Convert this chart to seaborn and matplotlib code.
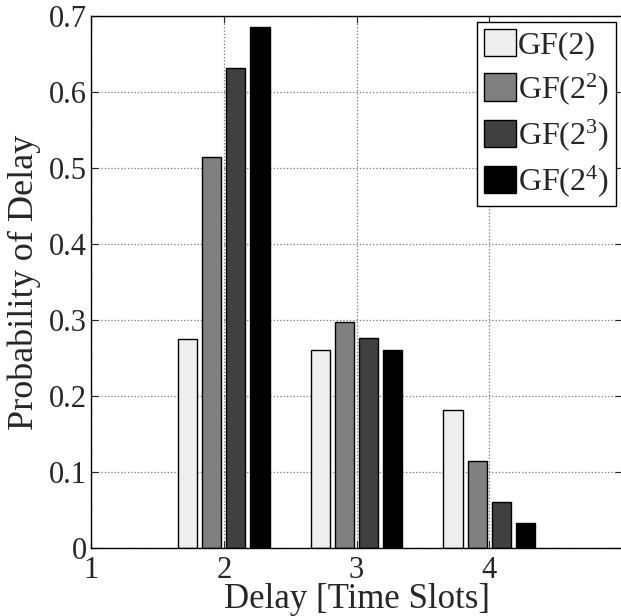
import numpy as np
import pandas as pd
import seaborn as sns
from matplotlib import pyplot as plt

# values
delays = [2, 3, 4]
field_labels = ["GF(2)", "GF(2$^{2}$)", "GF(2$^{3}$)", "GF(2$^{4}$)"]
gf2 = [0.275, 0.260, 0.182]
gf4 = [0.515, 0.298, 0.114]
gf8 = [0.631, 0.276, 0.060]
gf16 = [0.685, 0.261, 0.0325]
colors = ["#eeeeee", "#808080", "#404040", "#000000"]

sns.set_style("ticks")
plt.rcParams["font.family"] = ["Liberation Serif", "DejaVu Serif"]
plt.rcParams["mathtext.fontset"] = "custom"
plt.rcParams["mathtext.rm"] = "Liberation Serif"
plt.rcParams["mathtext.it"] = "Liberation Serif:italic"

rows = []
for label, vals in zip(field_labels, [gf2, gf4, gf8, gf16]):
    for d, v in zip(delays, vals):
        rows.append({"delay": d, "field": label, "prob": v})
df = pd.DataFrame(rows)

fig = plt.figure(figsize=(6.21, 6.16), dpi=100)
ax = fig.add_axes([91 / 621, 68 / 616, 531 / 621, 532 / 616])

sns.barplot(
    data=df, x="delay", y="prob", hue="field", hue_order=field_labels,
    palette=colors, native_scale=True, width=0.727, gap=0.2,
    edgecolor="black", linewidth=1.0, errorbar=None, ax=ax,
)

ax.set_xlim(1, 5)
ax.set_ylim(0, 0.7)
ax.set_xticks([1, 2, 3, 4])
ax.set_xticklabels(["1", "2", "3", "4"])
ax.set_yticks(np.arange(0, 0.71, 0.1))
ax.set_yticklabels(["0", "0.1", "0.2", "0.3", "0.4", "0.5", "0.6", "0.7"])
ax.grid(True, linestyle=":", color="#777777", linewidth=0.9)
ax.set_axisbelow(True)
ax.tick_params(direction="in", length=5, top=True, right=True, labelsize=22)
ax.tick_params(axis="x", pad=6)
ax.tick_params(axis="y", pad=3)
for s in ax.spines.values():
    s.set_linewidth(1.0)
    s.set_color("black")

ax.set_xlabel("Delay [Time Slots]", fontsize=25)
ax.set_ylabel("Probability of Delay", fontsize=26)
ax.xaxis.set_label_coords(0.5, -0.066)
ax.yaxis.set_label_coords(-0.094, 0.5)

handles, labels = ax.get_legend_handles_labels()
ax.legend(
    handles, labels, loc="upper right", fontsize=23, frameon=True,
    fancybox=False, framealpha=1, edgecolor="black", handlelength=1.0,
    handleheight=0.95, handletextpad=0.08, labelspacing=0.33,
    borderpad=0.2, borderaxespad=0.2, title=None,
)
ax.get_legend().get_frame().set_linewidth(1.0)

fig.savefig("out.png", dpi=100)
